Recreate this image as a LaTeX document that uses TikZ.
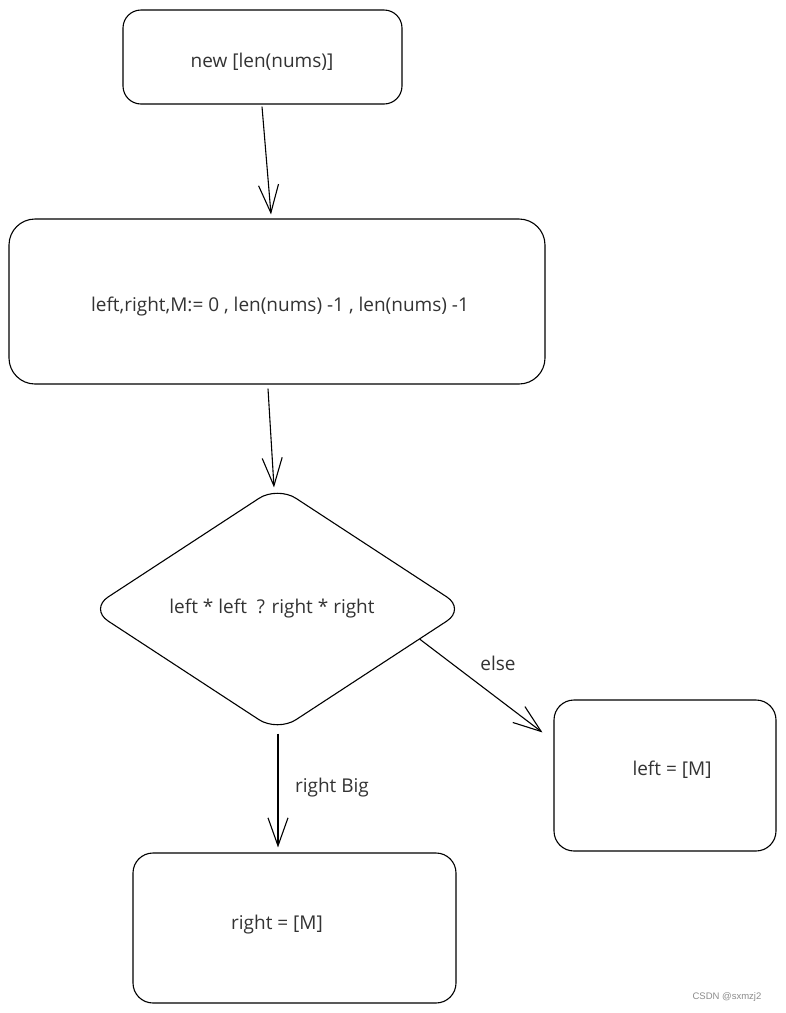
\documentclass[tikz,border=0pt]{standalone}
\usepackage{fontspec}
\setmainfont{Open Sans}
\newfontfamily\wmfont{Liberation Sans}
\usetikzlibrary{shapes.geometric,arrows.meta}
\tikzset{
  boxnode/.style={draw=black, line width=1.1pt, rectangle, rounded corners=20pt, inner sep=0pt},
  decnode/.style={draw=black, line width=1.1pt, diamond, rounded corners=22pt, inner sep=0pt},
  txt/.style={text=black!80, font=\fontsize{19}{23}\selectfont, inner sep=0pt},
  arr/.style={draw=black, line width=1.1pt, -{Straight Barb[length=28pt,width=20pt,line width=1.1pt]}}
}
\begin{document}
\begin{tikzpicture}[x=1pt,y=-1pt]
\useasboundingbox (0,0) rectangle (786,1013);
\fill[white] (0,0) rectangle (786,1013);
% boxes
\node[boxnode, minimum width=279pt, minimum height=94pt, rounded corners=18pt] (b1) at (262.5,57) {};
\node[boxnode, minimum width=536pt, minimum height=165pt, rounded corners=26pt] (b2) at (277,301.5) {};
\node[decnode, minimum width=376pt, minimum height=246pt] (d) at (277.5,609) {};
\node[boxnode, minimum width=222pt, minimum height=151pt] (b4) at (665,775.5) {};
\node[boxnode, minimum width=323pt, minimum height=150pt] (b5) at (294.5,928) {};
% texts
\node[txt] (t1) at (262,62) {new [len(nums)]};
\node[txt] (t2) at (280,307) {left,right,M:= 0 , len(nums) -1 , len(nums) -1};
\node[txt] (t3) at (272,609) {left * left\ \ ? right * right};
\node[txt] (t4) at (672,770) {left = [M]};
\node[txt] (t5) at (277,925) {right = [M]};
\node[txt] (l1) at (498,663) {else};
\node[txt] (l2) at (332,788) {right Big};
% connectors
\draw[arr] ([xshift=-0.5pt,yshift=-2pt]b1.south) -- ([xshift=-6pt,yshift=4pt]b2.north);
\draw[arr] ([xshift=-9pt,yshift=-4pt]b2.south) -- ([xshift=-3.5pt,yshift=-2pt]d.north);
\draw[arr] ([xshift=0.5pt,yshift=-1pt]d.south) -- ([xshift=-16.5pt,yshift=5pt]b5.north);
\draw[arr] (d.-12.4) -- ([xshift=-11pt,yshift=-33pt]b4.north west);
% watermark
\node[text=black!45, font=\wmfont\fontsize{9.5}{11}\selectfont, inner sep=0pt] (wm) at (727,997) {CSDN @sxmzj2};
\end{tikzpicture}
\end{document}
